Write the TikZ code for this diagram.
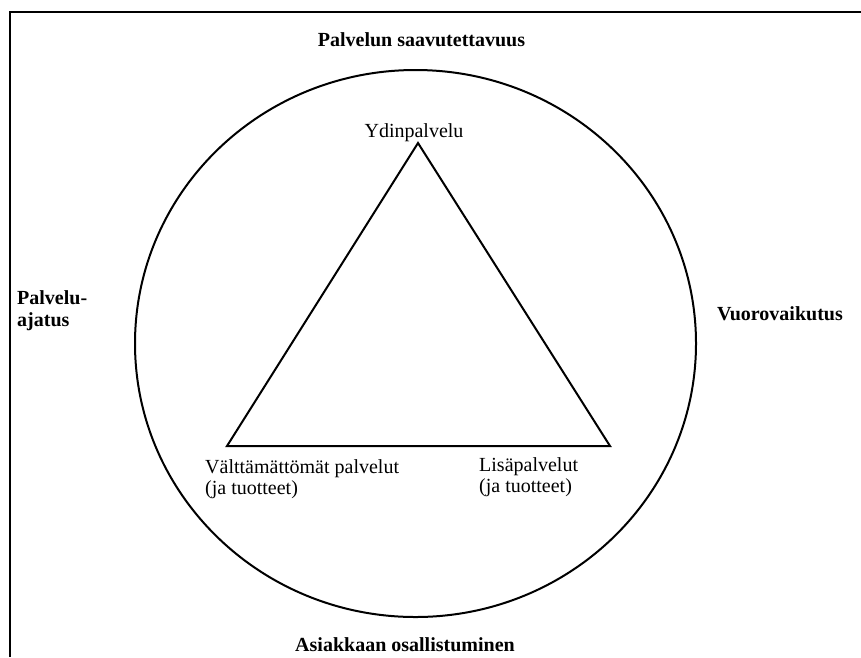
\documentclass[tikz,border=0pt]{standalone}
\usepackage{fontspec}
\setmainfont{Liberation Serif}
\begin{document}
\begin{tikzpicture}[x=1pt,y=-1pt,
  outline/.style={line width=2pt,black},
  label/.style={inner sep=0pt,font=\fontsize{20}{21}\selectfont},
  heading/.style={inner sep=0pt,font=\fontsize{20}{22}\selectfont\bfseries}]
  \useasboundingbox (0,0) rectangle (861,657);
  % frame: only the left and top sides lie within the page
  \coordinate (fbl) at (10,657);
  \coordinate (ftl) at (10,12);
  \coordinate (ftr) at (861,12);
  \draw[line width=2.2pt] (fbl) -- (ftl) -- (ftr);
  % outer ring
  \coordinate (ctr) at (415.5,343.5);
  \draw[outline] (ctr) ellipse [x radius=280.5, y radius=273.5];
  % service triangle
  \coordinate (top) at (418,143);
  \coordinate (bl) at (227,446);
  \coordinate (br) at (610,446);
  \draw[outline,line join=miter] (top) -- (bl) -- (br) -- cycle;
  % corner labels
  \node[label,anchor=base] (core) at (414,137) {Ydinpalvelu};
  \node[label,anchor=north west,align=left] (ess) at (205,459)
    {Välttämättömät palvelut\\(ja tuotteet)};
  \node[label,anchor=north west,align=left] (add) at (479,457)
    {Lisäpalvelut\\(ja tuotteet)};
  % surrounding headings
  \node[heading,anchor=base] (access) at (421.5,46) {Palvelun saavutettavuus};
  \node[heading,anchor=north west,align=left] (idea) at (17,290)
    {Palvelu-\\ajatus};
  \node[heading,anchor=base west] (inter) at (717,320) {Vuorovaikutus};
  \node[heading,anchor=base] (part) at (405,651) {Asiakkaan osallistuminen};
\end{tikzpicture}
\end{document}
